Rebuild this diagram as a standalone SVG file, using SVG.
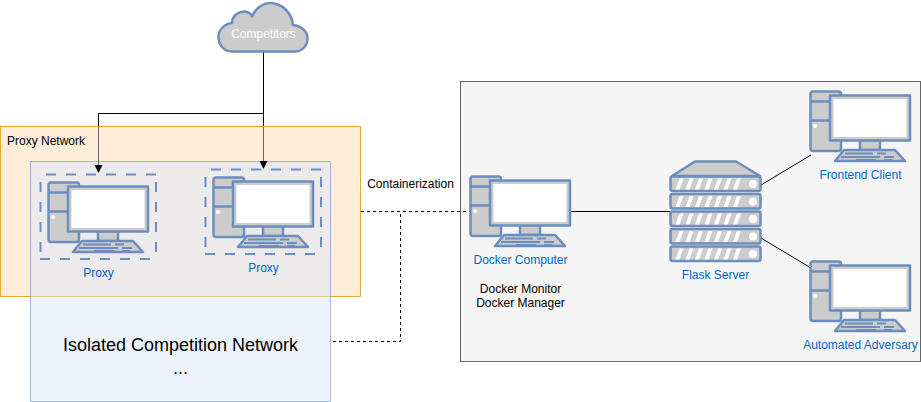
<svg xmlns="http://www.w3.org/2000/svg" width="921" height="402" viewBox="0 0 921 402">
<style>
text{font-family:"Liberation Sans",Arial,sans-serif;font-size:12px;text-anchor:middle;fill:#000}
.blue{fill:#0066cc}
.g{fill:#cccccc;stroke:#6c8ebf;stroke-width:2.500;stroke-linejoin:round}
.b{fill:none;stroke:#6c8ebf;stroke-width:2.500}
.t{fill:none;stroke:#6c8ebf;stroke-width:1.800}
.w{fill:#fff}
.dash{fill:none;stroke:#6c8ebf;stroke-width:2;stroke-dasharray:10 10}
.conn{fill:none;stroke:#000;stroke-width:1}
.fade{fill:none;stroke:#666;stroke-width:1}
.d{stroke-dasharray:3 3}
</style>
<defs>
<g id="pc">
<rect class="g" x="0.500" y="0.500" width="30.500" height="59.500" rx="2.500"/>
<path class="b" d="M0.500 10.500H20M0.500 29.500H20"/>
<circle class="w" cx="5" cy="35" r="2"/>
<rect class="g" x="50" y="49" width="20" height="10"/>
<rect class="g" x="20" y="4.500" width="80" height="45"/>
<rect class="w" x="23.500" y="8" width="73" height="38"/>
<path class="g" d="M25 70L34 59H85L95 70Z"/>
<path class="t" d="M35 62.500H63M67 62.500H76M31 66H70M74 66H84M46 69H66M74 69H82"/>
</g>
<g id="slat">
<rect class="g" x="0" y="0" width="90" height="14.500" rx="2"/>
<path d="M5 13L9 2H13L9 13ZM15 13L19 2H23L19 13ZM24.500 13L28.500 2H32.500L28.500 13ZM34 13L38 2H42L38 13ZM43.500 13L47.500 2H51.500L47.500 13ZM53 13L57 2H61L57 13ZM62.500 13L66.500 2H70.500L66.500 13Z" fill="#fff"/>
<circle class="w" cx="82.500" cy="7.500" r="4"/>
</g>
</defs>

<rect id="docker-host" x="460.500" y="81.500" width="460" height="280" fill="#f5f5f5" stroke="#666666"/>

<g id="proxy-network">
<rect x="0.500" y="126.500" width="360" height="170" fill="#ffedda" stroke="#e1ac2a"/>
<text x="46" y="145">Proxy Network</text>
</g>

<g id="competition-network">
<rect x="30.500" y="161.500" width="300" height="240" fill="#dae8fc" fill-opacity="0.5" stroke="#6c8ebf" stroke-opacity="0.6"/>
<text x="180.500" y="351" style="font-size:18px">Isolated Competition Network</text>
<text x="180.500" y="374" style="font-size:18px">...</text>
</g>

<g id="connectors">
<path class="conn" d="M263.500 52V113.500H98.500V126M263.500 113V126"/>
<path class="fade" d="M98.500 127V167M263.500 127V163"/>
<path d="M263.500 169L259.500 161H267.500Z M98.500 173L94.500 165H102.500Z" fill="#000"/>
<path class="conn d" d="M361 211.500H470"/>
<path class="conn d" d="M333 341.500H400.500V211.500"/>
<path class="conn" d="M571 211.500H670"/>
<path class="conn" d="M761 185L811 155"/>
<path class="conn" d="M761 238L811 268"/>
</g>

<g id="competitors">
<path class="g" d="M232 51.500C224 51.500 218.500 45 218.500 37C218.500 30 224 24 232 23C232 15 240 11 245 11.500C249 12 251 14 252 16.500C256 7 264 3 270 3C282 3 292 13 293 25C302 26 307.500 32 307.500 38C307.500 46 302 51.500 295 51.500Z"/>
<text x="263.500" y="38" style="fill:#fff">Competitors</text>
</g>

<g id="proxy-1">
<path class="dash" d="M46 174.500H156M156 182V258M150 259H40"/>
<path class="dash" d="M40.500 182V252"/>
<use href="#pc" x="48" y="182"/>
<text class="blue" x="98.500" y="277">Proxy</text>
</g>
<g id="proxy-2">
<path class="dash" d="M211 169.500H321M321 177V253M315 254H205"/>
<path class="dash" d="M205.500 177V247"/>
<use href="#pc" x="213" y="177"/>
<text class="blue" x="263.500" y="272">Proxy</text>
</g>

<g id="docker-computer">
<use href="#pc" x="470" y="176"/>
<text class="blue" x="520.500" y="264">Docker Computer</text>
<text x="520.500" y="293">Docker Monitor</text>
<text x="520.500" y="307">Docker Manager</text>
</g>

<g id="flask-server">
<path class="g" d="M672 176L695 161.500H736L760 176Z"/>
<use href="#slat" x="670.500" y="176.500"/>
<use href="#slat" x="670.500" y="194"/>
<use href="#slat" x="670.500" y="211.500"/>
<use href="#slat" x="670.500" y="229"/>
<use href="#slat" x="670.500" y="246.500"/>
<text class="blue" x="715.500" y="279">Flask Server</text>
</g>

<g id="frontend-client">
<use href="#pc" x="810" y="91"/>
<text class="blue" x="860.500" y="179">Frontend Client</text>
</g>
<g id="automated-adversary">
<use href="#pc" x="810" y="261"/>
<text class="blue" x="860.500" y="349">Automated Adversary</text>
</g>

<text x="410.500" y="188">Containerization</text>
</svg>
